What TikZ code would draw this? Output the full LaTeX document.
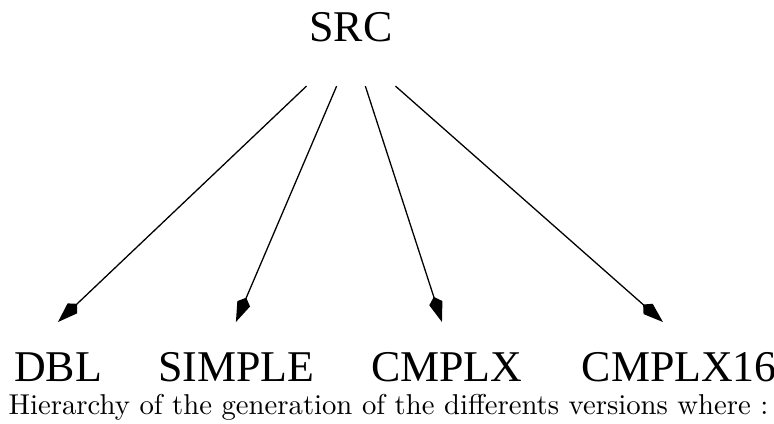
\documentclass[tikz,border=0pt]{standalone}
\usepackage{fontspec}
\newfontfamily\versionfont{Liberation Serif}
\usetikzlibrary{arrows.meta}
\tikzset{version/.style={font=\versionfont\fontsize{15.3}{18}\selectfont, inner sep=0pt, anchor=base},
         derive/.style={-{Kite[length=9.2pt,width=4.8pt,inset=2.3pt]}, line width=0.45pt}}

\begin{document}
\begin{tikzpicture}[x=1pt,y=1pt]
\useasboundingbox (0,0) rectangle (269.7,-147.7);
\node[version] (src) at (122.3,-14.6) {SRC};

\node[version] (dbl) at (20.2,-132.9) {DBL};
\node[version] (simple) at (82.4,-132.9) {SIMPLE};
\node[version] (cmplx) at (155.7,-132.9) {CMPLX};
\node[version] (cmplx16) at (236.7,-132.9) {CMPLX16};

\node[anchor=base west, inner sep=0pt] (caption) at (2.8,-144.6) {Hierarchy of the generation of the differents versions where :};

\draw[derive] ([xshift=-15.5pt,yshift=-15.4pt]src.base) -- ([yshift=20.7pt]dbl.base);
\draw[derive] ([xshift=-5pt,yshift=-15.4pt]src.base) -- ([xshift=-0.2pt,yshift=20.7pt]simple.base);
\draw[derive] ([xshift=5pt,yshift=-15.4pt]src.base) -- ([xshift=-1.7pt,yshift=20.7pt]cmplx.base);
\draw[derive] ([xshift=15.5pt,yshift=-15.4pt]src.base) -- ([xshift=-5.7pt,yshift=20.7pt]cmplx16.base);
\end{tikzpicture}
\end{document}
